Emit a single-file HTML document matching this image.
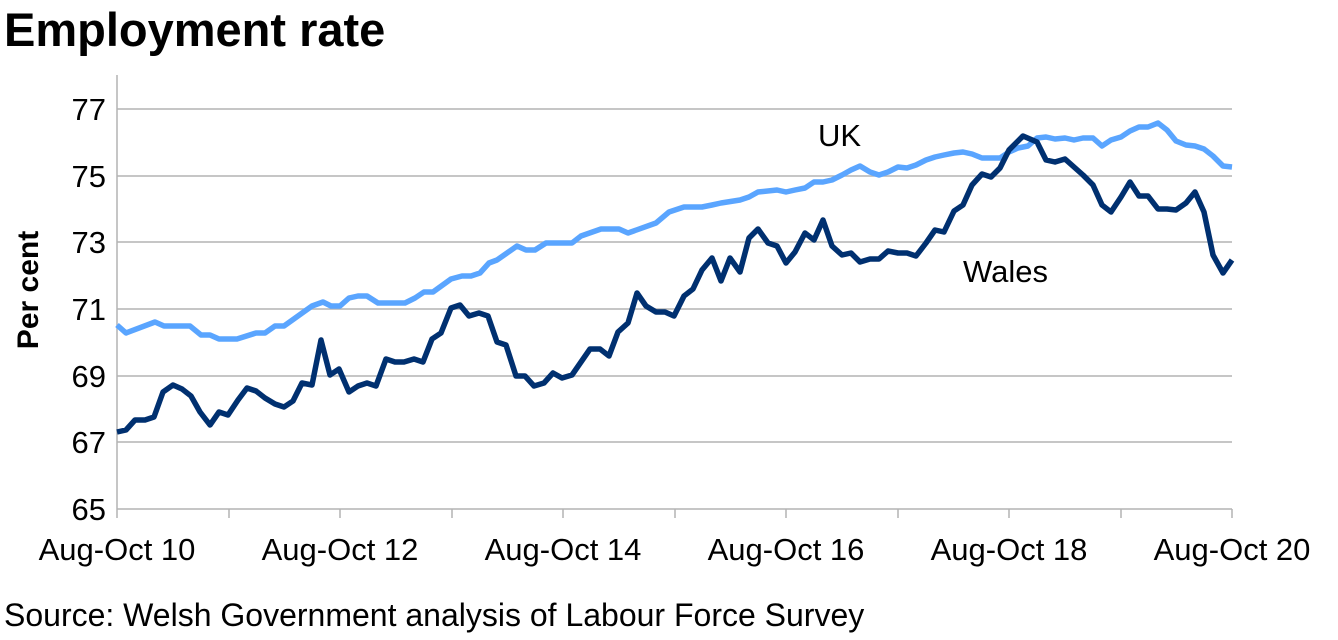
<!DOCTYPE html>
<html><head><meta charset="utf-8"><style>
body{margin:0;background:#fff;width:1338px;height:635px;overflow:hidden}
svg text{font-family:"Liberation Sans",Arial,sans-serif}
</style></head><body>
<svg width="1338" height="635" viewBox="0 0 1338 635">
<text x="4" y="46" font-size="47" font-weight="bold">Employment rate</text>
<g stroke="#b3b3b3" stroke-width="1.5">
<line x1="117" y1="109" x2="1232" y2="109"/>
<line x1="117" y1="176" x2="1232" y2="176"/>
<line x1="117" y1="242" x2="1232" y2="242"/>
<line x1="117" y1="309" x2="1232" y2="309"/>
<line x1="117" y1="376" x2="1232" y2="376"/>
<line x1="117" y1="442" x2="1232" y2="442"/>
<line x1="117" y1="509" x2="1232" y2="509"/>
<line x1="117" y1="75" x2="117" y2="509"/>
<line x1="117" y1="509" x2="117" y2="518"/><line x1="229" y1="509" x2="229" y2="518"/><line x1="340" y1="509" x2="340" y2="518"/><line x1="452" y1="509" x2="452" y2="518"/><line x1="563" y1="509" x2="563" y2="518"/><line x1="675" y1="509" x2="675" y2="518"/><line x1="786" y1="509" x2="786" y2="518"/><line x1="898" y1="509" x2="898" y2="518"/><line x1="1009" y1="509" x2="1009" y2="518"/><line x1="1121" y1="509" x2="1121" y2="518"/><line x1="1232" y1="509" x2="1232" y2="518"/>
</g>
<g font-size="31" text-anchor="end">
<text x="106" y="120">77</text><text x="106" y="187">75</text><text x="106" y="253">73</text><text x="106" y="320">71</text><text x="106" y="387">69</text><text x="106" y="453">67</text><text x="106" y="520">65</text>
</g>
<text transform="translate(38,290) rotate(-90)" font-size="30" font-weight="bold" text-anchor="middle">Per cent</text>
<g font-size="31" text-anchor="middle">
<text x="117" y="560">Aug-Oct 10</text><text x="340" y="560">Aug-Oct 12</text><text x="563" y="560">Aug-Oct 14</text><text x="786" y="560">Aug-Oct 16</text><text x="1009" y="560">Aug-Oct 18</text><text x="1232" y="560">Aug-Oct 20</text>
</g>
<text x="4" y="626" font-size="32">Source: Welsh Government analysis of Labour Force Survey</text>
<text x="818" y="146" font-size="31">UK</text>
<text x="963" y="282" font-size="31">Wales</text>
<polyline fill="none" stroke="#5aa5ff" stroke-width="5.5" stroke-linejoin="round" points="117,325 126,333 155,322 164,326 190,326 201,335 210,335 219,339 237,339 256,333 265,333 275,326 284,326 312,306 323,302 331,306 340,306 349,298 358,296 367,296 378,303 405,303 415,298 424,292 433,292 451,279 462,276 471,276 480,273 489,263 497,260 517,246 526,250 535,250 546,243 572,243 581,236 601,229 619,229 628,233 656,223 669,212 684,207 702,207 712,205 721,203 740,200 749,197 758,192 777,190 786,192 795,190 805,188 814,182 823,182 832,180 842,175 851,170 860,166 870,172 879,175 888,172 898,167 907,168 916,165 926,160 935,157 944,155 954,153 963,152 972,154 982,158 1000,158 1009,152 1018,148 1028,146 1037,138 1046,137 1055,139 1065,138 1074,140 1083,138 1093,138 1102,146 1111,140 1121,137 1130,131 1139,127 1148,127 1158,123 1167,130 1176,141 1186,145 1195,146 1204,149 1213,156 1223,166 1232,167"/>
<polyline fill="none" stroke="#003070" stroke-width="5.5" stroke-linejoin="round" points="117,432 126,430 135,420 145,420 154,417 163,392 173,385 182,389 191,396 200,412 210,425 219,412 228,415 238,400 247,388 256,391 265,398 275,404 284,407 293,401 302,383 312,385 321,340 330,375 339,369 349,392 358,386 367,383 376,386 386,359 395,362 404,362 414,359 423,362 432,339 441,333 451,308 460,305 469,316 479,313 488,316 497,342 506,345 516,376 525,376 534,386 544,383 553,373 562,378 572,375 581,362 590,349 600,349 609,356 618,332 628,323 637,293 646,306 656,312 665,312 674,316 684,296 693,289 702,270 712,258 721,281 730,258 740,272 749,238 758,229 768,243 777,246 786,263 795,252 805,233 814,240 823,220 832,246 842,255 851,253 860,262 870,259 879,259 888,251 898,253 907,253 916,256 926,243 935,230 944,232 954,211 963,205 972,185 982,174 991,177 1000,168 1009,150 1023,136 1037,142 1046,160 1055,162 1065,159 1074,167 1083,175 1093,185 1102,205 1111,212 1121,197 1130,182 1139,196 1148,196 1158,209 1167,209 1176,210 1186,203 1195,192 1204,212 1213,255 1223,273 1232,260"/>
</svg>
</body></html>
